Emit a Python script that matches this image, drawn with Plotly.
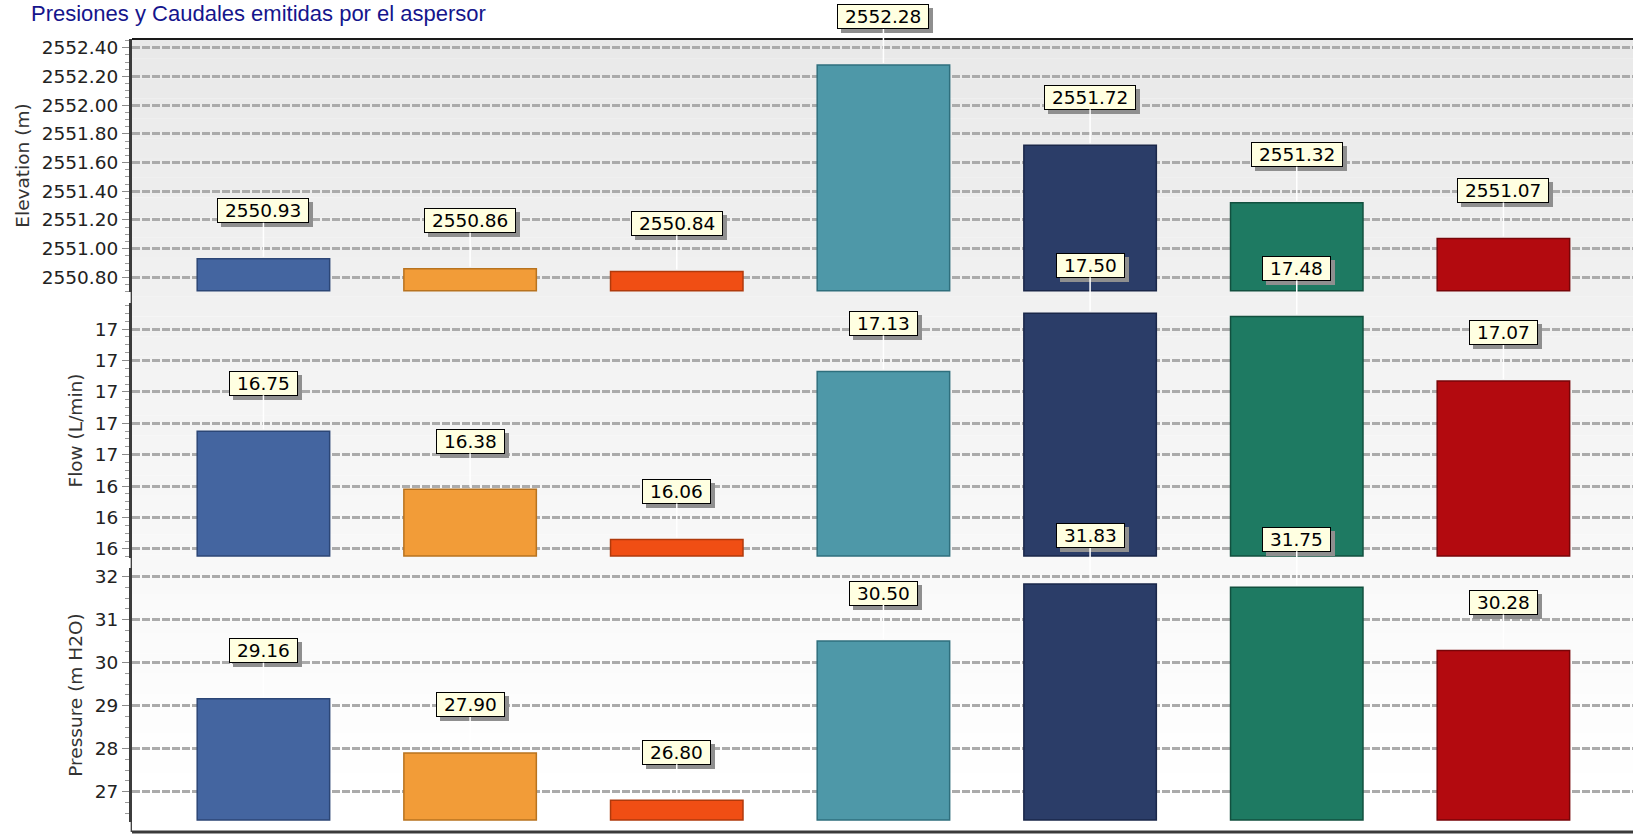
import plotly.graph_objects as go

# Sprinkler data: elevation, flow and pressure at each emitter
aspersores = ["Asp. 1", "Asp. 2", "Asp. 3", "Asp. 4", "Asp. 5", "Asp. 6", "Asp. 7"]
elevacion = [2550.93, 2550.86, 2550.84, 2552.28, 2551.72, 2551.32, 2551.07]
caudal = [16.75, 16.38, 16.06, 17.13, 17.50, 17.48, 17.07]
presion = [29.16, 27.90, 26.80, 30.50, 31.83, 31.75, 30.28]

colores = ["#4465A0", "#F29C38", "#F04E14", "#4E98A8", "#2B3D68", "#1E7A62", "#B30A0F"]
bordes = ["#2C4676", "#B8731F", "#B03A0C", "#2F6F7D", "#1A2749", "#12503F", "#780508"]

W, H = 1633, 834
M_L, M_R, M_T, M_B = 132, 0, 39, 2
plot_h = H - M_T - M_B


def py(px):
    """Pixel row -> paper y coordinate."""
    return (H - M_B - px) / plot_h


# panel layout: domain rows in px, axis range, bar floor, tick spacing, format, minor step, title
paneles = [
    dict(top=39, bot=292, rng=[2550.698, 2552.461], floor=2550.707, dtick=0.2, tick0=2550.8,
         fmt=".2f", minor=0.05, title="Elevation (m)", vals=elevacion),
    dict(top=303, bot=558, rng=[15.942, 17.566], floor=15.955, dtick=0.2, tick0=16.0,
         fmt=".0f", minor=0.05, title="Flow (L/min)", vals=caudal),
    dict(top=568, bot=822, rng=[26.295, 32.2], floor=26.34, dtick=1, tick0=27,
         fmt=".0f", minor=0.25, title="Pressure (m H2O)", vals=presion),
]

x_range = [-0.636, 6.627]
fig = go.Figure()
annotations = []
shapes = []

FS = 18.5
tick_font = dict(family="DejaVu Sans", size=FS, color="#222222")
title_font = dict(family="DejaVu Sans", size=FS, color="#333333")


def blank(s):
    # same-width invisible text for the shadow box (figure / punctuation spaces)
    return s.translate(str.maketrans("0123456789.", "\u2007" * 10 + "\u2008"))


for i, p in enumerate(paneles):
    n = "" if i == 0 else str(i + 1)
    xa, ya = "x" + n, "y" + n
    fig.add_trace(go.Bar(
        x=aspersores,
        y=[v - p["floor"] for v in p["vals"]],
        base=p["floor"],
        width=0.641,
        marker=dict(color=colores, line=dict(color=bordes, width=1.5)),
        xaxis=xa, yaxis=ya,
        showlegend=False,
        hovertext=[f"{v:.2f}" for v in p["vals"]],
        hoverinfo="x+text",
    ))
    dom = [py(p["bot"]), py(p["top"])]
    fig.layout["xaxis" + n] = dict(
        domain=[0, 1], range=x_range, anchor=ya, type="category",
        categoryorder="array", categoryarray=aspersores,
        showgrid=False, showticklabels=False, ticks="", showline=False, zeroline=False,
    )
    fig.layout["yaxis" + n] = dict(
        domain=dom, range=p["rng"], anchor=xa,
        tick0=p["tick0"], dtick=p["dtick"], tickformat=p["fmt"],
        ticks="outside", ticklen=7, tickwidth=1, tickcolor="#8a8a8a",
        minor=dict(dtick=p["minor"], tick0=p["tick0"], ticks="outside", ticklen=4,
                   tickwidth=1, tickcolor="#9a9a9a", showgrid=False),
        showgrid=True, gridcolor="#ababab", gridwidth=3, griddash="8px,2px",
        showline=True, linecolor="#3c3c3c", linewidth=3,
        zeroline=False, tickfont=tick_font,
        title=dict(text=p["title"], font=title_font, standoff=8),
    )

    # value boxes with drop shadow and white leader line
    for cat, v in zip(aspersores, p["vals"]):
        txt = f" {v:.2f} "
        annotations.append(dict(
            x=cat, y=v, xref=xa, yref=ya, text=blank(txt),
            showarrow=True, ax=4, ay=-44, arrowcolor="rgba(0,0,0,0)", arrowhead=0,
            font=dict(family="DejaVu Sans", size=FS, color="rgba(0,0,0,0)"),
            bgcolor="#8f8f8f", bordercolor="#8f8f8f", borderwidth=1, borderpad=1,
        ))
        annotations.append(dict(
            x=cat, y=v, xref=xa, yref=ya, text=txt,
            showarrow=True, ax=0, ay=-48, arrowcolor="#ffffff", arrowwidth=1.5,
            arrowhead=0, standoff=2,
            font=dict(family="DejaVu Sans", size=FS, color="#000000"),
            bgcolor="#FFFFE1", bordercolor="#000000", borderwidth=1, borderpad=1,
        ))

# soft vertical gradient behind the panels
bandas = 40
top_c, bot_c = 233, 255
for k in range(bandas):
    y0 = k / bandas
    y1 = (k + 1) / bandas
    t = 1 - (y0 + y1) / 2
    c = round(top_c + (bot_c - top_c) * min(1.0, t * 1.06))
    shapes.append(dict(type="rect", xref="paper", yref="paper", x0=0, x1=1, y0=y0, y1=y1,
                       fillcolor=f"rgb({c},{c},{c})", line=dict(width=0), layer="below"))

# thin axis connectors between panels
for a, b in [(292, 303), (558, 568), (822, 832)]:
    shapes.append(dict(type="line", xref="paper", yref="paper", x0=-0.0005, x1=-0.0005,
                       y0=py(b), y1=py(a), line=dict(color="#000000", width=1)))

# frame lines top and bottom
shapes.append(dict(type="line", xref="paper", yref="paper", x0=0, x1=1, y0=1, y1=1,
                   line=dict(color="#1a1a1a", width=2)))
shapes.append(dict(type="line", xref="paper", yref="paper", x0=0, x1=1, y0=0, y1=0,
                   line=dict(color="#3a3a3a", width=3)))

fig.update_layout(
    width=W, height=H,
    margin=dict(l=M_L, r=M_R, t=M_T, b=M_B),
    paper_bgcolor="#ffffff", plot_bgcolor="#ffffff",
    title=dict(text="Presiones y Caudales emitidas por el aspersor",
               x=31 / W, xref="container", xanchor="left",
               y=1 - 13 / H, yref="container", yanchor="middle",
               font=dict(family="Liberation Sans", size=22, color="#15158C")),
    annotations=annotations,
    shapes=shapes,
)

fig.write_html("out.html")
